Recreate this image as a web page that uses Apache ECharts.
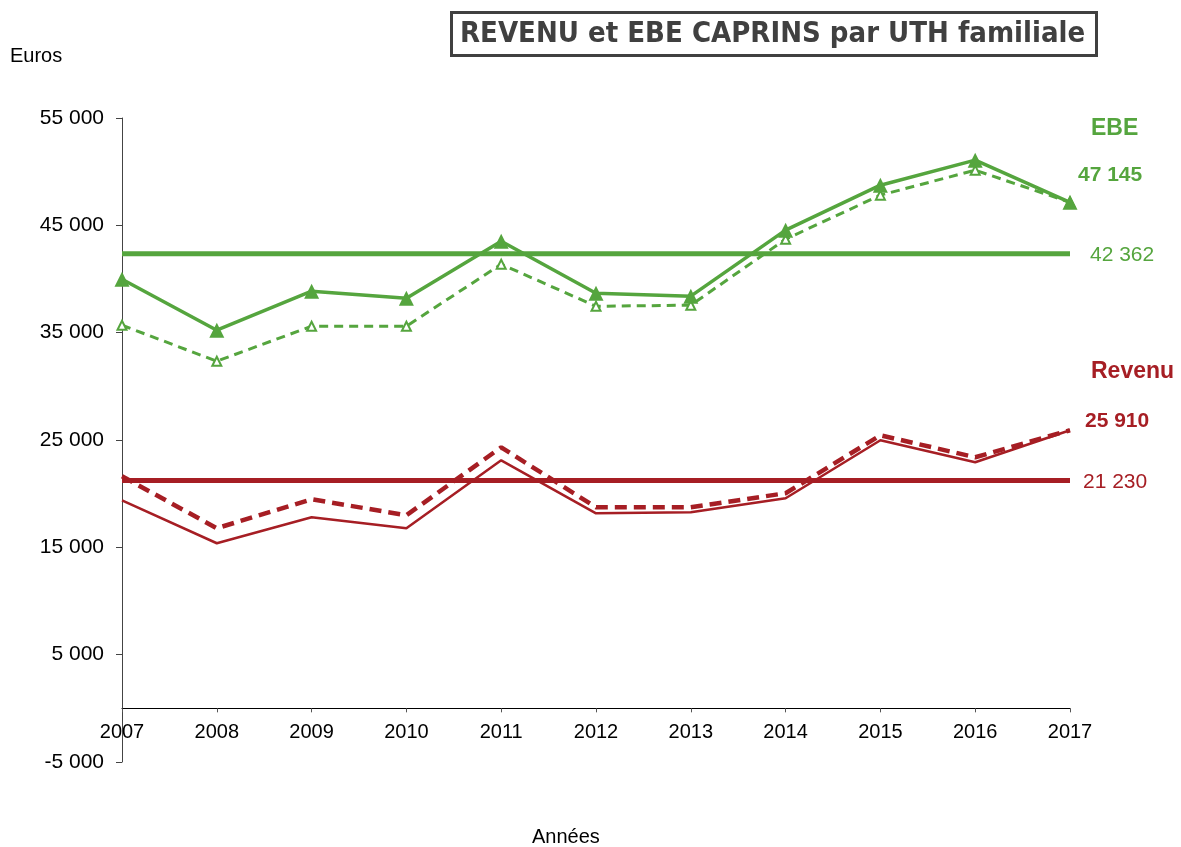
<!DOCTYPE html>
<html>
<head>
<meta charset="utf-8">
<script src="https://cdn.jsdelivr.net/npm/echarts@6/dist/echarts.min.js"></script>
<style>
html, body { margin: 0; padding: 0; background: #fff; }
#chart { width: 1181px; height: 847px; }
</style>
</head>
<body>
<div id="chart"></div>
<script>
const years = ['2007', '2008', '2009', '2010', '2011', '2012', '2013', '2014', '2015', '2016', '2017']
const ebeSolid = [39980, 35230, 38860, 38210, 43520, 38680, 38400, 44550, 48740, 51070, 47145]
const ebeDashed = [35690, 32340, 35600, 35600, 41380, 37460, 37560, 43710, 47810, 50140, 47145]
const ebeMean = [42362, 42362, 42362, 42362, 42362, 42362, 42362, 42362, 42362, 42362, 42362]
const revSolid = [19380, 15380, 17800, 16780, 23110, 18170, 18270, 19570, 24980, 22930, 25910]
const revDashed = [21620, 16780, 19480, 17990, 24320, 18730, 18730, 20040, 25440, 23390, 25910]
const revMean = [21230, 21230, 21230, 21230, 21230, 21230, 21230, 21230, 21230, 21230, 21230]
const yTicks = [-5000, 5000, 15000, 25000, 35000, 45000, 55000]

const green = '#55A53E'
const red = '#A61E24'
const font = 'Liberation Sans, Arial, sans-serif'
const yMin = -5000
const yMax = 55000
const gridTop = 118
const gridBottom = 85

function fmt (v) {
  let s = String(Math.abs(Math.round(v))).replace(/\B(?=(\d{3})+(?!\d))/g, ' ')
  return (v < 0 ? '-' : '') + s
}

let chart = echarts.init(document.getElementById('chart'))
// x axis sits on the zero line, labels included
let plotH = 847 - gridTop - gridBottom
let zeroOffset = -plotH * (0 - yMin) / (yMax - yMin)

let option = {
  animation: false,
  title: {
    text: 'REVENU et EBE CAPRINS par UTH familiale',
    left: 451,
    top: 12,
    borderColor: '#404040',
    borderWidth: 3,
    padding: [8, 12, 7, 9],
    textStyle: {
      fontFamily: 'DejaVu Sans Condensed, DejaVu Sans, sans-serif',
      fontWeight: 'bold',
      fontSize: 29,
      color: '#404040'
    }
  },
  grid: {
    left: 122,
    right: 111,
    top: gridTop,
    bottom: gridBottom,
    containLabel: false
  },
  xAxis: {
    type: 'category',
    data: years,
    boundaryGap: false,
    offset: zeroOffset,
    axisLine: { onZero: false, lineStyle: { color: '#000', width: 1 } },
    axisTick: { show: true, length: 4, lineStyle: { color: '#555' } },
    axisLabel: { color: '#000', fontSize: 20, fontFamily: font, margin: 14 },
    splitLine: { show: false }
  },
  yAxis: {
    type: 'value',
    min: yMin,
    max: yMax,
    axisLine: { show: true, lineStyle: { color: '#444', width: 1 } },
    axisTick: { show: true, length: 6, customValues: yTicks, lineStyle: { color: '#444' } },
    axisLabel: {
      customValues: yTicks,
      color: '#000',
      fontSize: 21,
      fontFamily: font,
      margin: 18,
      formatter: fmt
    },
    splitLine: { show: false }
  },
  graphic: [
    { type: 'text', left: 10, top: 46, style: { text: 'Euros', fontSize: 20, fontFamily: font, fill: '#000' } },
    { type: 'text', left: 532, top: 827, style: { text: 'Années', fontSize: 20, fontFamily: font, fill: '#000' } },
    { type: 'text', left: 1091, top: 117, style: { text: 'EBE', fontSize: 23, fontWeight: 'bold', fontFamily: font, fill: green } },
    { type: 'text', left: 1091, top: 360, style: { text: 'Revenu', fontSize: 23, fontWeight: 'bold', fontFamily: font, fill: red } }
  ],
  series: [
    {
      name: 'EBE moyen',
      type: 'line',
      data: ebeMean,
      symbol: 'none',
      lineStyle: { color: green, width: 5 },
      endLabel: {
        show: true,
        formatter: p => fmt(p.value),
        color: green,
        fontSize: 21,
        fontFamily: font,
        distance: 20,
        offset: [0, 2]
      },
      z: 1
    },
    {
      name: 'Revenu moyen',
      type: 'line',
      data: revMean,
      symbol: 'none',
      lineStyle: { color: red, width: 5 },
      endLabel: {
        show: true,
        formatter: p => fmt(p.value),
        color: red,
        fontSize: 21,
        fontFamily: font,
        distance: 13,
        offset: [0, 2]
      },
      z: 1
    },
    {
      name: 'EBE pointillé',
      type: 'line',
      data: ebeDashed,
      symbol: 'triangle',
      symbolSize: 9,
      itemStyle: { color: '#fff', borderColor: green, borderWidth: 2 },
      lineStyle: { color: green, width: 3, type: [9, 6] },
      z: 2
    },
    {
      name: 'EBE',
      type: 'line',
      data: ebeSolid,
      symbol: 'triangle',
      symbolSize: 15,
      itemStyle: { color: green },
      lineStyle: { color: green, width: 3.5 },
      endLabel: {
        show: true,
        formatter: p => fmt(p.value),
        color: green,
        fontSize: 21,
        fontWeight: 'bold',
        fontFamily: font,
        offset: [0, -27]
      },
      z: 3
    },
    {
      name: 'Revenu',
      type: 'line',
      data: revSolid,
      symbol: 'none',
      lineStyle: { color: red, width: 2.5 },
      z: 2
    },
    {
      name: 'Revenu pointillé',
      type: 'line',
      data: revDashed,
      symbol: 'none',
      lineStyle: { color: red, width: 4.5, type: [12, 7] },
      endLabel: {
        show: true,
        formatter: p => fmt(p.value),
        color: red,
        fontSize: 21,
        fontWeight: 'bold',
        fontFamily: font,
        offset: [7, -9]
      },
      z: 3
    }
  ]
}
chart.setOption(option)
</script>
</body>
</html>
